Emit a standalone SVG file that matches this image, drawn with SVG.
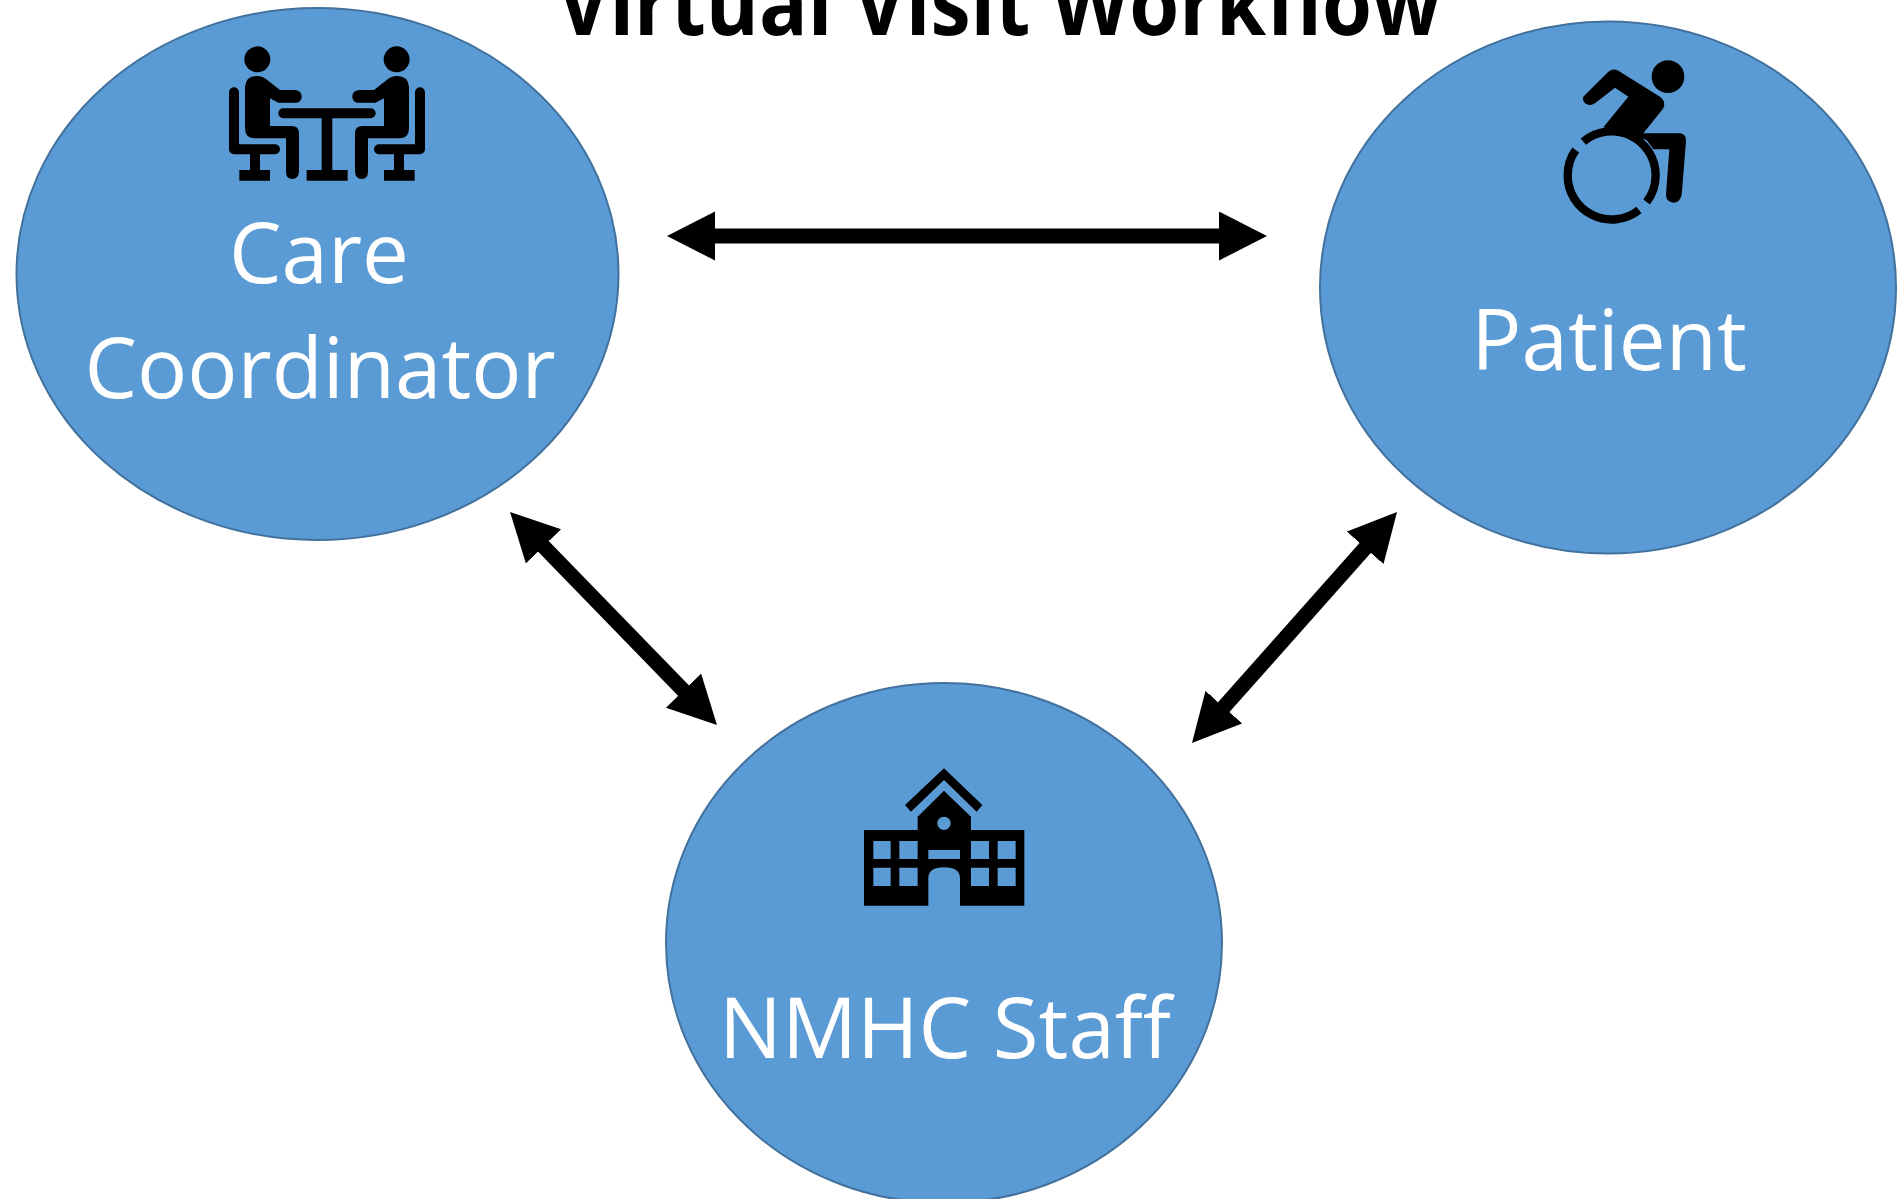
<svg xmlns="http://www.w3.org/2000/svg" width="1901" height="1199" viewBox="0 0 1901 1199">
<style>
.n{fill:#5B9BD5;stroke:#41719C;stroke-width:2}
.l{font-family:"Open Sans","Noto Sans",sans-serif;font-size:83.5px;fill:#fff;text-anchor:middle}
.t{font-family:"Open Sans","Noto Sans",sans-serif;font-size:88px;font-weight:700;fill:#000}
.c{stroke:#000;stroke-width:15;fill:none}
.s{stroke:#000;fill:none;stroke-linecap:round;stroke-linejoin:round}
</style>
<defs>
<marker id="h" markerUnits="userSpaceOnUse" markerWidth="50" markerHeight="50" refX="10" refY="24.5" orient="auto-start-reverse"><path d="M0 0L48 24.5L0 49Z"/></marker>
</defs>
<rect width="1901" height="1199" fill="#fff"/>
<text id="title" class="t" x="557" y="35" textLength="884" lengthAdjust="spacingAndGlyphs">Virtual Visit Workflow</text>
<g id="care-coordinator">
<ellipse class="n" cx="317.5" cy="274" rx="301" ry="266"/>
<g transform="translate(200 30) scale(.3333)">
<g id="person">
<circle cx="172" cy="88" r="39"/>
<path d="M135 170Q138 138 170 138Q187 138 198 147L240 180H285Q305 182 305 200Q305 218 285 218H235L210 205V288H275Q297 288 297 310V425Q295 447 277 447Q258 447 258 425V325H165Q135 325 135 295Z"/>
<path class="s" stroke-width="30" d="M102 187V358H225"/>
<path d="M150 370H180V420H210V452H118V420H150Z"/>
</g>
<use href="#person" transform="matrix(-1 0 0 1 762 0)"/>
<path class="s" stroke-width="30" d="M250 250H512"/>
<path d="M365 260H397V420H443V452H320V420H365Z"/>
</g>
<text class="l" x="319" y="283">Care</text>
<text class="l" x="320" y="398">Coordinator</text>
</g>
<g id="patient">
<ellipse class="n" cx="1608" cy="287.5" rx="288" ry="266"/>
<g transform="translate(1540 40) scale(.3333)">
<circle cx="384" cy="110" r="49"/>
<path d="M135 165L205 95Q222 82 240 95L360 170Q382 185 368 208L310 280H420Q440 282 438 305L425 465Q420 488 400 488Q378 485 378 465L388 328H340L320 300L215 268L190 262L265 170L225 143L165 190Q150 200 135 190Q122 175 135 165Z"/>
<path d="M130 305A132 132 0 0 1 347 406A132 132 0 0 1 320 486M297 510A132 132 0 0 1 83 406A132 132 0 0 1 107 330" fill="none" stroke="#000" stroke-width="25"/>
</g>
<text class="l" x="1609" y="370">Patient</text>
</g>
<g id="nmhc-staff">
<ellipse class="n" cx="944" cy="943" rx="278" ry="260"/>
<g transform="translate(840 750) scale(.3333)">
<path d="M195 165L312 55L427 165L410 185L312 90L213 185Z"/>
<path fill-rule="evenodd" d="M72 240H233V200L312 122L393 200V240H553V467H360V385Q360 352 312 352Q265 352 265 385V467H72ZM100 273V327H152V273ZM178 273V327H233V273ZM100 353V408H152V353ZM178 353V408H233V353ZM393 273V327H447V273ZM473 273V327H527V273ZM393 353V408H447V353ZM473 353V408H527V353ZM265 300V327H360V300ZM292 220A20 20 0 0 0 332 220A20 20 0 0 0 292 220Z"/>
</g>
<text class="l" x="945" y="1058">NMHC Staff</text>
</g>
<g id="connectors">
<line class="c" x1="705" y1="236" x2="1229" y2="236" marker-start="url(#h)" marker-end="url(#h)"/>
<line class="c" x1="536.5" y1="539.2" x2="690.5" y2="697.8" marker-start="url(#h)" marker-end="url(#h)"/>
<line class="c" x1="1371.8" y1="540.4" x2="1217.2" y2="714.6" marker-start="url(#h)" marker-end="url(#h)"/>
</g>
</svg>
